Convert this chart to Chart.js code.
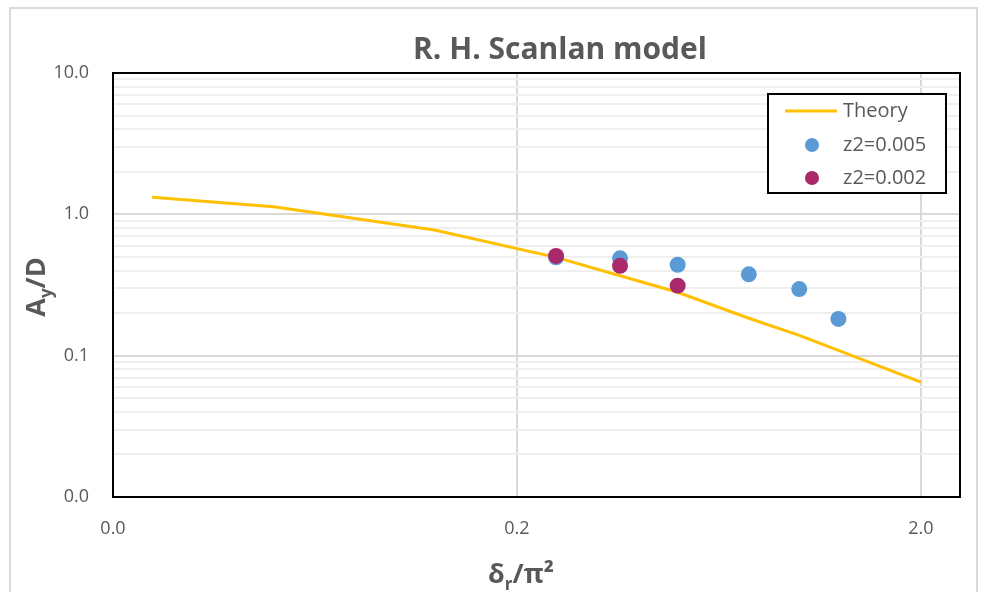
<!DOCTYPE html>
<html>
<head>
<meta charset="utf-8">
<script src="https://cdn.jsdelivr.net/npm/chart.js@4.4.1/dist/chart.umd.min.js"></script>
<style>
    body { margin: 0; background: #ffffff; }
    canvas { display: block; }
</style>
</head>
<body>
<canvas id="scanlanChart" width="981" height="592"></canvas>
<script>
const theoryX = [0.025, 0.05, 0.125, 0.25, 0.36, 0.5, 0.75, 1.0, 1.25, 2.0];
const theoryY = [1.32, 1.13, 0.775, 0.496, 0.368, 0.281, 0.184, 0.139, 0.109, 0.065];

const z005X = [0.25, 0.36, 0.5, 0.75, 1.0, 1.25];
const z005Y = [0.496, 0.488, 0.44, 0.376, 0.296, 0.182];

const z002X = [0.25, 0.36, 0.5];
const z002Y = [0.508, 0.432, 0.313];

// axis ticks
const xTicks = [0.02, 0.2, 2.0];
const yMajorTicks = [0.01, 0.1, 1.0, 10.0];
const yMinorSteps = [2, 3, 4, 5, 6, 7, 8, 9];

const seriesNames = ['Theory', 'z2=0.005', 'z2=0.002'];

const FONT = '"Open Sans", Lato, sans-serif';
const TEXT_COLOR = '#595959';
const THEORY_COLOR = '#FFC000';
const BLUE = '#5B9BD5';
const MAGENTA = '#A9296B';

function toPoints(xs, ys) {
    return xs.map((x, i) => ({ x: x, y: ys[i] }));
}

function isDecade(v) {
    const l = Math.log10(v);
    return Math.abs(l - Math.round(l)) < 1e-9;
}

const yAllTicks = [];
yMajorTicks.forEach((t, i) => {
    yAllTicks.push(t);
    if (i < yMajorTicks.length - 1) {
        yMinorSteps.forEach(s => yAllTicks.push(t * s));
    }
});

// draws text pieces [text, baselineShift, size] side by side, centred on cx
function drawPieces(c, parts, cx, cy) {
    let w = 0;
    parts.forEach(p => { c.font = 'bold ' + p[2] + 'px ' + FONT; w += c.measureText(p[0]).width; });
    let px = cx - w / 2;
    parts.forEach(p => {
        c.font = 'bold ' + p[2] + 'px ' + FONT;
        c.fillText(p[0], px, cy + p[1]);
        px += c.measureText(p[0]).width;
    });
}

const decorPlugin = {
    id: 'decor',
    beforeDraw(chart) {
        const c = chart.ctx;
        c.save();
        c.fillStyle = '#ffffff';
        c.fillRect(0, 0, chart.width, chart.height);
        c.strokeStyle = '#d9d9d9';
        c.lineWidth = 2;
        c.strokeRect(10, 8, 967, 600);
        c.restore();
    },
    afterDraw(chart) {
        const c = chart.ctx;
        const a = chart.chartArea;
        c.save();

        // plot frame
        c.strokeStyle = '#000000';
        c.lineWidth = 2;
        c.strokeRect(a.left, a.top, a.right - a.left, a.bottom - a.top);

        // title
        c.fillStyle = TEXT_COLOR;
        c.font = 'bold 30px ' + FONT;
        c.textAlign = 'center';
        c.textBaseline = 'middle';
        c.fillText('R. H. Scanlan model', 560, 50);

        // axis titles
        c.textAlign = 'left';
        c.textBaseline = 'alphabetic';
        drawPieces(c, [['δ', 0, 27], ['r', 7, 17], ['/π²', 0, 27]], 521, 583);

        c.translate(45, 287);
        c.rotate(-Math.PI / 2);
        drawPieces(c, [['A', 0, 27], ['y', 7, 17], ['/D', 0, 27]], 0, 0);
        c.setTransform(1, 0, 0, 1, 0, 0);

        // legend
        c.fillStyle = '#ffffff';
        c.fillRect(768, 94, 178, 99);
        c.strokeStyle = '#000000';
        c.lineWidth = 2;
        c.strokeRect(768, 94, 178, 99);
        c.font = '20px ' + FONT;
        c.textBaseline = 'middle';
        c.textAlign = 'left';
        c.strokeStyle = THEORY_COLOR;
        c.lineWidth = 3;
        c.beginPath();
        c.moveTo(785, 111);
        c.lineTo(837, 111);
        c.stroke();
        const swatch = [null, BLUE, MAGENTA];
        const rowY = [111, 145, 178];
        seriesNames.forEach((name, i) => {
            if (swatch[i]) {
                c.fillStyle = swatch[i];
                c.beginPath();
                c.arc(812, rowY[i], 7, 0, Math.PI * 2);
                c.fill();
            }
            c.fillStyle = TEXT_COLOR;
            c.fillText(name, 843, rowY[i]);
        });

        c.restore();
    }
};

const ctx = document.getElementById('scanlanChart').getContext('2d');

const chart = new Chart(ctx, {
    type: 'scatter',
    data: {
        datasets: [
            {
                label: seriesNames[0],
                data: toPoints(theoryX, theoryY),
                showLine: true,
                borderColor: THEORY_COLOR,
                borderWidth: 3,
                pointRadius: 0,
                tension: 0,
                order: 3,
            },
            {
                label: seriesNames[1],
                data: toPoints(z005X, z005Y),
                backgroundColor: BLUE,
                borderColor: BLUE,
                pointRadius: 8,
                pointBorderWidth: 0,
                order: 2,
            },
            {
                label: seriesNames[2],
                data: toPoints(z002X, z002Y),
                backgroundColor: MAGENTA,
                borderColor: MAGENTA,
                pointRadius: 8,
                pointBorderWidth: 0,
                order: 1,
            },
        ],
    },
    options: {
        responsive: false,
        animation: false,
        layout: {
            padding: { left: 0, top: 73, right: 21, bottom: 0 }
        },
        plugins: {
            legend: { display: false },
            title: { display: false },
            tooltip: { enabled: false }
        },
        scales: {
            x: {
                type: 'logarithmic',
                min: 0.02,
                max: 2.5,
                afterBuildTicks: function (scale) {
                    scale.ticks = xTicks.map(v => ({ value: v, major: true }));
                },
                afterFit: function (scale) {
                    scale.height = 95;
                },
                ticks: {
                    autoSkip: false,
                    maxRotation: 0,
                    padding: 21,
                    color: TEXT_COLOR,
                    font: { family: FONT, size: 18 },
                    callback: function (value) {
                        return Number(value).toFixed(1);
                    }
                },
                grid: {
                    color: '#d9d9d9',
                    lineWidth: 2,
                    drawTicks: false
                },
                border: { display: true, color: '#000000', width: 2 }
            },
            y: {
                type: 'logarithmic',
                min: 0.01,
                max: 10,
                afterBuildTicks: function (scale) {
                    scale.ticks = yAllTicks.map(v => ({ value: v, major: isDecade(v) }));
                },
                afterFit: function (scale) {
                    scale.width = 113;
                },
                ticks: {
                    autoSkip: false,
                    padding: 24,
                    color: TEXT_COLOR,
                    font: { family: FONT, size: 18 },
                    callback: function (value) {
                        return isDecade(value) ? Number(value).toFixed(1) : '';
                    }
                },
                grid: {
                    color: function (c) {
                        return c.tick && isDecade(c.tick.value) ? '#d9d9d9' : '#efefef';
                    },
                    lineWidth: 2,
                    drawTicks: false
                },
                border: { display: true, color: '#000000', width: 2 }
            }
        }
    },
    plugins: [decorPlugin]
});
</script>
</body>
</html>
